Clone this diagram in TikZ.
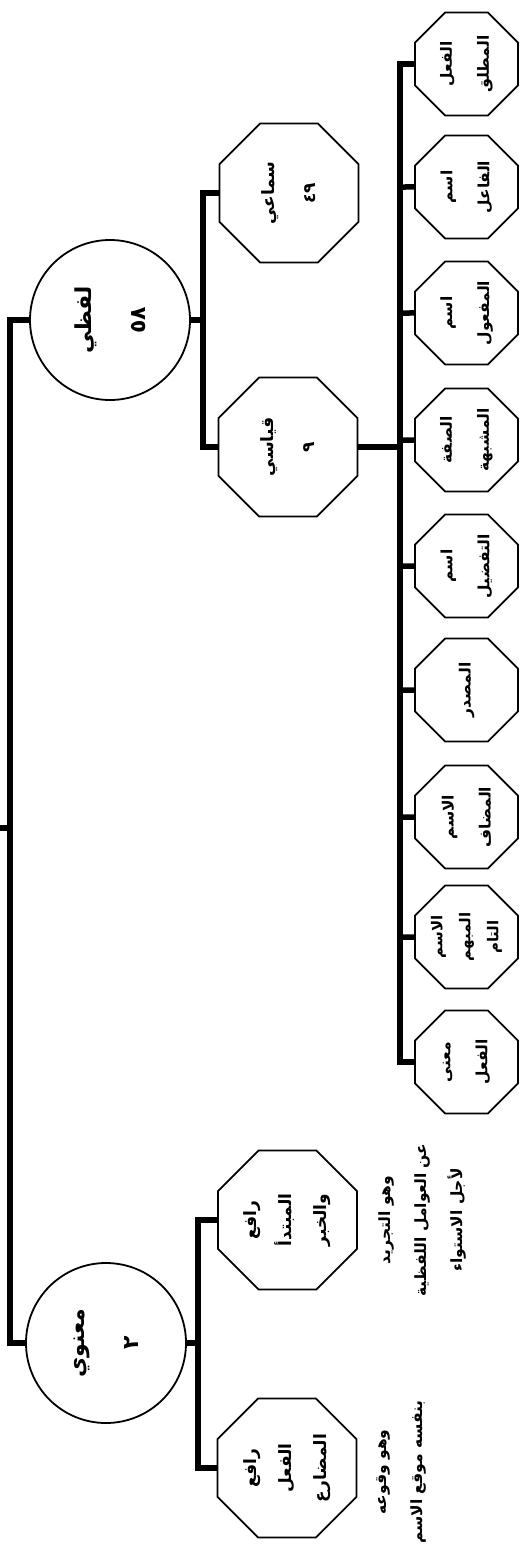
\documentclass[tikz,border=0pt]{standalone}
\usepackage{fontspec}
\newfontfamily\arabicfont[Script=Arabic]{DejaVu Sans}
\TeXXeTstate=1
\usetikzlibrary{shapes.geometric}
\newcommand\AR[1]{\beginR #1\endR}
\begin{document}
\begin{tikzpicture}[x=1pt,y=-1pt,
  conn/.style={line width=5.5pt},
  circ/.style={circle, draw, line width=1.8pt, minimum size=160pt, inner sep=0pt, rotate=90, align=center,
    font=\arabicfont\bfseries\fontsize{22}{30}\selectfont},
  bigoct/.style={regular polygon, regular polygon sides=8, draw, line width=1.8pt, minimum size=150.5pt,
    inner sep=0pt, rotate=90, align=center, font=\arabicfont\bfseries\fontsize{17}{35}\selectfont},
  smalloct/.style={regular polygon, regular polygon sides=8, draw, line width=1.8pt, minimum size=111.5pt,
    inner sep=0pt, rotate=90, align=center, font=\arabicfont\bfseries\fontsize{15.5}{37}\selectfont},
  note/.style={rotate=90, align=center, inner sep=0pt, font=\arabicfont\bfseries\fontsize{15.5}{36}\selectfont}
]
\useasboundingbox (0,0) rectangle (520,1555);

% root level
\node[circ] (lafzi) at (110,320) {\AR{لفظي}\\[24pt]٥٨};
\node[circ] (manawi) at (106,1343) {\AR{معنوي}\\[24pt]٢};
\coordinate (rootstub) at (0,828);
\coordinate (rj) at (10,828);

% manawi children
\node[bigoct] (mub) at (287.5,1220) {\AR{رافع}\\\AR{المبتدأ}\\\AR{والخبر}};
\node[bigoct] (mud) at (287,1468) {\AR{رافع}\\\AR{الفعل}\\\AR{المضارع}};
\coordinate (mj) at (198,1343);

% lafzi children
\node[bigoct] (samai) at (289,193) {\AR{سماعي}\\[6pt]٤٩};
\node[bigoct] (qiyasi) at (288,447) {\AR{قياسي}\\[6pt]٩};
\coordinate (lj) at (203,320);

% qiyasi children
\coordinate (qj) at (400,447);
\node[smalloct] (c1) at (466.5,64)  {\AR{الفعل}\\\AR{المطلق}};
\node[smalloct] (c2) at (466.5,187) {\AR{اسم}\\\AR{الفاعل}};
\node[smalloct] (c3) at (466.5,313) {\AR{اسم}\\\AR{المفعول}};
\node[smalloct] (c4) at (466.5,440) {\AR{الصفة}\\\AR{المشبهة}};
\node[smalloct] (c5) at (466.5,566) {\AR{اسم}\\\AR{التفضيل}};
\node[smalloct] (c6) at (466.5,690) {\AR{المصدر}};
\node[smalloct] (c7) at (466.5,817) {\AR{الاسم}\\\AR{المضاف}};
\node[smalloct, font=\arabicfont\bfseries\fontsize{15}{28}\selectfont] (c8) at (466.5,937) {\AR{الاسم}\\\AR{المبهم}\\\AR{التام}};
\node[smalloct] (c9) at (466.5,1062) {\AR{معنى}\\\AR{الفعل}};

% notes
\node[note] (n1) at (422,1220) {\AR{وهو التجريد}\\\AR{عن العوامل اللفظية}\\\AR{لأجل الاستواء}};
\node[note] (n2) at (401,1472) {\AR{وهو وقوعه}\\\AR{بنفسه موقع الاسم}};

% connectors
\draw[conn] (rootstub) -- (rj);
\draw[conn] (lafzi) -| (rj) |- (manawi);
\draw[conn] (manawi) -- (mj);
\draw[conn] (mub) -| (mj) |- (mud);
\draw[conn] (lafzi) -- (lj);
\draw[conn] (samai) -| (lj) |- (qiyasi);
\draw[conn] (qiyasi) -- (qj);
\draw[conn] (c1) -| (qj) |- (c9);
\foreach \c in {c2,c3,c4,c5,c6,c7,c8}
  \draw[conn] (\c) -- (\c -| qj);
\end{tikzpicture}
\end{document}
